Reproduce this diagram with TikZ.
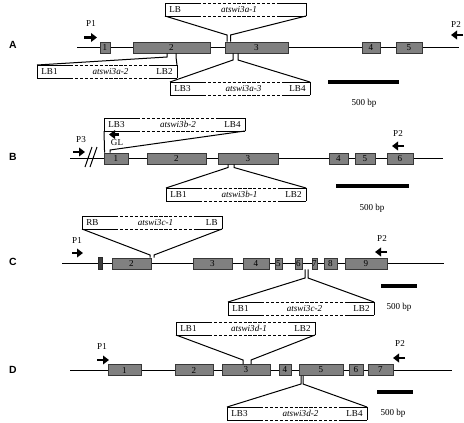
\documentclass[tikz,border=0pt]{standalone}
\usepackage{fontspec}
\setmainfont{Liberation Serif}
\newfontfamily\panelfont{Liberation Sans}
\usetikzlibrary{arrows.meta}

\tikzset{every picture/.style={line width=0.75pt}}
\tikzset{
  exon/.style={draw={rgb, 255:red, 55; green, 55; blue, 55 }, fill={rgb, 255:red, 128; green, 128; blue, 128 }, line width=0.6pt, minimum height=8.25pt, inner sep=0pt, font=\fontsize{6.8}{8}\selectfont},
  tdna/.style={minimum height=9pt, inner sep=0pt, anchor=north west},
  tdashed/.style={dash pattern=on 2.4pt off 1.3pt},
  lbl/.style={inner sep=0.75pt, font=\fontsize{6.8}{8}\selectfont},
  primer/.style={line width=2.1pt, -{Triangle[length=4.5pt,width=6.5pt]}},
  scalebar/.style={line width=2.4pt},
  panel/.style={inner sep=0.75pt, font=\panelfont\bfseries\fontsize{7.8}{9}\selectfont},
}

% exon: name, left, right, y, number
\newcommand{\exon}[5]{\node[exon, minimum width={(#3-#2)*0.75pt}] (#1) at ({(#2+#3)/2},#4) {#5};}
% T-DNA box: name, x, y, width, left border, line, right border
\newcommand{\tdnabox}[7]{%
  \node[tdna, minimum width={#4*0.75pt}] (#1) at (#2,#3) {};
  \draw (#1.north west) -- ++(33,0) (#1.south west) -- ++(33,0) (#1.north west) -- (#1.south west);
  \draw (#1.north east) -- ++(-26,0) (#1.south east) -- ++(-26,0) (#1.north east) -- (#1.south east);
  \draw[tdashed] ([xshift=24.75pt]#1.north west) -- ([xshift=-19.5pt]#1.north east) ([xshift=24.75pt]#1.south west) -- ([xshift=-19.5pt]#1.south east);
  \node[lbl, anchor=west] (#1-l) at ([xshift=2.2pt]#1.west) {#5};
  \node[lbl, anchor=east] (#1-r) at ([xshift=-2.2pt]#1.east) {#7};
  \node[lbl] (#1-n) at ([xshift=2.6pt]#1.center) {\textit{#6}};
}

\begin{document}
\begin{tikzpicture}[x=0.75pt,y=0.75pt,yscale=-1,xscale=1]
	\useasboundingbox (0,0) rectangle (464,422);
	
	%%%%%%%% A
	\node[panel] (A) at (13,45) {A};
	%Straight Lines
	\coordinate (a-start) at (77,47.5);
	\coordinate (a-end) at (459,47.5);
	\draw (a-start) -- (a-end);
	\exon{a1}{100}{110}{47.5}{1}
	\exon{a2}{133}{210}{47.5}{2}
	\exon{a3}{225}{288}{47.5}{3}
	\exon{a4}{362}{380}{47.5}{4}
	\exon{a5}{396}{422}{47.5}{5}
	% primers
	\node[lbl] (a-P1) at (91,24) {P1};
	\draw[primer] (84,37.5) -- (97,37.5);
	\node[lbl] (a-P2) at (456,24.5) {P2};
	\draw[primer] (463,35) -- (451,35);
	% insertions
	\tdnabox{ta1}{165}{3}{140}{LB}{atswi3a-1}{}
	\coordinate (ta1-il) at (227,35);
	\coordinate (ta1-ir) at (230.5,35);
	\draw (ta1.south west) -- (ta1-il) -- (ta1-il |- a3.north);
	\draw (ta1.south east) -- (ta1-ir) -- (ta1-ir |- a3.north);
	\tdnabox{ta2}{37}{65}{139}{LB1}{atswi3a-2}{LB2}
	\coordinate (ta2-il) at (167,57);
	\coordinate (ta2-ir) at (176,57);
	\draw (ta2.north west) -- (ta2-il) -- (ta2-il |- a2.south);
	\draw (ta2.north east) -- (ta2-ir) -- (ta2-ir |- a2.south);
	\tdnabox{ta3}{170}{82}{139}{LB3}{atswi3a-3}{LB4}
	\coordinate (ta3-il) at (233,60);
	\coordinate (ta3-ir) at (238,60);
	\draw (ta3.north west) -- (ta3-il) -- (ta3-il |- a3.south);
	\draw (ta3.north east) -- (ta3-ir) -- (ta3-ir |- a3.south);
	% scale
	\draw[scalebar] (328,82) -- (399,82);
	\node[lbl] (a-scale) at (364,103) {500 bp};
	
	%%%%%%%% B
	\node[panel] (B) at (13,157) {B};
	\coordinate (b-start) at (70,158.5);
	\coordinate (b-end) at (443,158.5);
	\draw (b-start) -- (b-end);
	\draw (85,167) -- (92,147) (90,167) -- (97,147);
	\exon{b1}{104}{128}{158.5}{1}
	\exon{b2}{147}{206}{158.5}{2}
	\exon{b3}{218}{278}{158.5}{3}
	\exon{b4}{329}{348}{158.5}{4}
	\exon{b5}{355}{375}{158.5}{5}
	\exon{b6}{387}{413}{158.5}{6}
	\node[lbl] (b-P3) at (81,140) {P3};
	\draw[primer] (73,152) -- (85,152);
	\node[lbl] (b-P2) at (398,133) {P2};
	\draw[primer] (404,146) -- (392,146);
	\tdnabox{tb2}{104}{118}{140}{LB3}{atswi3b-2}{LB4}
	\coordinate (tb2-il) at (104.5,150);
	\coordinate (tb2-ir) at (110,150);
	\draw (tb2.south west) -- (tb2-il) -- (tb2-il |- b1.north);
	\draw (tb2.south east) -- (tb2-ir) -- (tb2-ir |- b1.north);
	\draw[primer] (119,134.5) -- (109,134.5);
	\node[lbl] (b-GL) at (117,143) {GL};
	\tdnabox{tb1}{166}{188}{139}{LB1}{atswi3b-1}{LB2}
	\coordinate (tb1-il) at (228,167.5);
	\coordinate (tb1-ir) at (234,167.5);
	\draw (tb1.north west) -- (tb1-il) -- (tb1-il |- b3.south);
	\draw (tb1.north east) -- (tb1-ir) -- (tb1-ir |- b3.south);
	\draw[scalebar] (336,186) -- (409,186);
	\node[lbl] (b-scale) at (372,208) {500 bp};
	
	%%%%%%%% C
	\node[panel] (C) at (13,262) {C};
	\coordinate (c-start) at (62,263.5);
	\coordinate (c-end) at (444,263.5);
	\draw (c-start) -- (c-end);
	\exon{c1}{99}{102}{263.5}{}
	\fill[draw={rgb, 255:red, 40; green, 40; blue, 40 }, fill={rgb, 255:red, 60; green, 60; blue, 60 }, line width=0.6pt] (c1.north west) rectangle (c1.south east);
	\exon{c2}{112}{151}{263.5}{2}
	\exon{c3}{193}{232}{263.5}{3}
	\exon{c4}{243}{269}{263.5}{4}
	\exon{c5}{275}{282}{263.5}{5}
	\exon{c6}{295}{302}{263.5}{6}
	\exon{c7}{312}{317}{263.5}{7}
	\exon{c8}{324}{337}{263.5}{8}
	\exon{c9}{345}{387}{263.5}{9}
	\node[lbl] (c-P1) at (77,241) {P1};
	\draw[primer] (72,253) -- (83,253);
	\node[lbl] (c-P2) at (382,238) {P2};
	\draw[primer] (387,252) -- (375,252);
	\tdnabox{tc1}{82}{216}{139}{RB}{atswi3c-1}{LB}
	\coordinate (tc1-il) at (150,255);
	\coordinate (tc1-ir) at (154,255);
	\draw (tc1.south west) -- (tc1-il) -- (tc1-il |- c2.north);
	\draw (tc1.south east) -- (tc1-ir) -- (tc1-ir |- c2.north);
	\tdnabox{tc2}{228}{302}{145}{LB1}{atswi3c-2}{LB2}
	\coordinate (tc2-il) at (305,278);
	\coordinate (tc2-ir) at (308,278);
	\draw (tc2.north west) -- (tc2-il) -- (tc2-il |- c6.south);
	\draw (tc2.north east) -- (tc2-ir) -- (tc2-ir |- c6.south);
	\draw[scalebar] (381,286) -- (417,286);
	\node[lbl] (c-scale) at (399,307) {500 bp};
	
	%%%%%%%% D
	\node[panel] (D) at (13,370) {D};
	\coordinate (d-start) at (70,370);
	\coordinate (d-end) at (452,370);
	\draw (d-start) -- (d-end);
	\exon{d1}{108}{141}{370}{1}
	\exon{d2}{175}{213}{370}{2}
	\exon{d3}{222}{270}{370}{3}
	\exon{d4}{279}{291}{370}{4}
	\exon{d5}{299}{343}{370}{5}
	\exon{d6}{349}{363}{370}{6}
	\exon{d7}{368}{393}{370}{7}
	\node[lbl] (d-P1) at (102,347) {P1};
	\draw[primer] (97,360) -- (109,360);
	\node[lbl] (d-P2) at (400,343) {P2};
	\draw[primer] (405,358) -- (393,358);
	\tdnabox{td1}{176}{322}{138}{LB1}{atswi3d-1}{LB2}
	\coordinate (td1-il) at (243,360);
	\coordinate (td1-ir) at (251,360);
	\draw (td1.south west) -- (td1-il) -- (td1-il |- d3.north);
	\draw (td1.south east) -- (td1-ir) -- (td1-ir |- d3.north);
	\tdnabox{td2}{227}{407}{139}{LB3}{atswi3d-2}{LB4}
	\coordinate (td2-il) at (301,384);
	\coordinate (td2-ir) at (303,384);
	\draw (td2.north west) -- (td2-il) -- (td2-il |- d5.south);
	\draw (td2.north east) -- (td2-ir) -- (td2-ir |- d5.south);
	\draw[scalebar] (377,392) -- (413,392);
	\node[lbl] (d-scale) at (393,413) {500 bp};
	
\end{tikzpicture}
\end{document}
